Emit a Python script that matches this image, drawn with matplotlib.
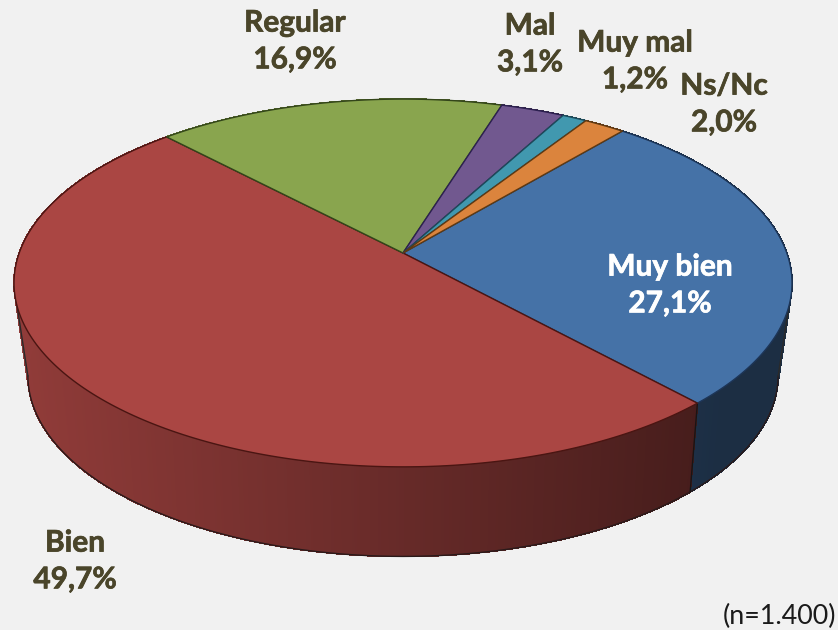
"""Perspective 3D pie of survey answers, drawn in pixel coordinates."""
import numpy as np
import matplotlib
matplotlib.use("Agg")
import matplotlib.pyplot as plt
import matplotlib.patheffects as pe

categories = ["Muy bien", "Bien", "Regular", "Mal", "Muy mal", "Ns/Nc"]
shares = [27.1, 49.7, 16.9, 3.1, 1.2, 2.0]
share_labels = ["27,1%", "49,7%", "16,9%", "3,1%", "1,2%", "2,0%"]
colors = ["#4572A7", "#AA4643", "#89A54E", "#71588F", "#4198AF", "#DB843D"]
edge_colors = ["#1d3557", "#4a1512", "#33451a", "#2c2050", "#1d4a5a", "#5e3a14"]
label_xy = [(670, 285), (75, 561), (295, 41), (530, 44), (635, 61), (724, 104)]
label_colors = ["white", "#4A452A", "#4A452A", "#4A452A", "#4A452A", "#4A452A"]

START_DEG = 40.0
CX = 403.0
# (apex y, a, b, k) of the top and bottom disc homographies
TOP = (253.0, 383.8, 179.0, 0.163)
BOTTOM = (343.0, 369.0, 175.0, 0.18)

plt.rcParams["font.family"] = ["Lato", "DejaVu Sans"]
BG = "#F1F1F1"


def project(theta, disc):
    """Clockwise-from-top angle (radians) to screen pixels on a disc."""
    y0, a, b, k = disc
    u, v = np.sin(theta), np.cos(theta)
    w = 1 + k * v
    return CX + a * u / w, y0 - b * v / w


def side_shade(x):
    # the wall darkens from left to right
    return float(np.clip(0.85 - 0.43 * (x - 14) / 680, 0.40, 0.85))


fig = plt.figure(figsize=(8.38, 6.30), dpi=100, facecolor=BG)
ax = fig.add_axes([0, 0, 1, 1])
ax.set_xlim(0, 838)
ax.set_ylim(630, 0)
ax.axis("off")

edges = START_DEG + np.cumsum([0] + shares) * 3.6
rgb = [np.array(matplotlib.colors.to_rgb(c)) for c in colors]

# walls first, the top face hides the back part
for i in range(len(shares)):
    steps = max(2, int((edges[i + 1] - edges[i]) * 3))
    th = np.radians(np.linspace(edges[i], edges[i + 1], steps + 1))
    xt, yt = project(th, TOP)
    xb, yb = project(th, BOTTOM)
    for j in range(steps):
        c = rgb[i] * side_shade((xt[j] + xt[j + 1]) / 2)
        ax.fill([xt[j], xt[j + 1], xb[j + 1], xb[j]], [yt[j], yt[j + 1], yb[j + 1], yb[j]],
                facecolor=c, edgecolor=c, linewidth=0.6, antialiased=False, zorder=1)

# wall outline and the vertical seam
th = np.radians(np.linspace(0, 360, 721))
xb, yb = project(th, BOTTOM)
xt, yt = project(th, TOP)
right, left = xb.argmax(), xb.argmin()
ax.plot(xb[right:left + 1], yb[right:left + 1], color="#2a1a1a", linewidth=1.0, zorder=2)
for side in (right, left):
    ax.plot([xt[side], xb[side]], [yt[side], yb[side]], color="#2a2a2a", linewidth=1.0, zorder=2)
seam = np.radians(edges[1])
sx0, sy0 = project(seam, TOP)
sx1, sy1 = project(seam, BOTTOM)
ax.plot([sx0, sx1], [sy0, sy1], color="#1a1414", linewidth=1.0, zorder=2)

# top face
for i in range(len(shares)):
    th = np.radians(np.linspace(edges[i], edges[i + 1], 200))
    x, y = project(th, TOP)
    ax.fill(np.r_[CX, x], np.r_[TOP[0], y], facecolor=colors[i], edgecolor=edge_colors[i],
            linewidth=1.0, joinstyle="round", zorder=3)

for name, pct, (x, y), c in zip(categories, share_labels, label_xy, label_colors):
    t = ax.text(x, y, f"{name}\n{pct}", ha="center", va="center", color=c, fontsize=21.5,
                fontweight="bold", linespacing=1.38, zorder=4)
    t.set_path_effects([pe.withStroke(linewidth=0.5, foreground=c)])

ax.text(836, 616, "(n=1.400)", ha="right", va="center", color="#1a1a1a", fontsize=19.4, zorder=4)

fig.savefig("out.png", dpi=100, facecolor=BG)
